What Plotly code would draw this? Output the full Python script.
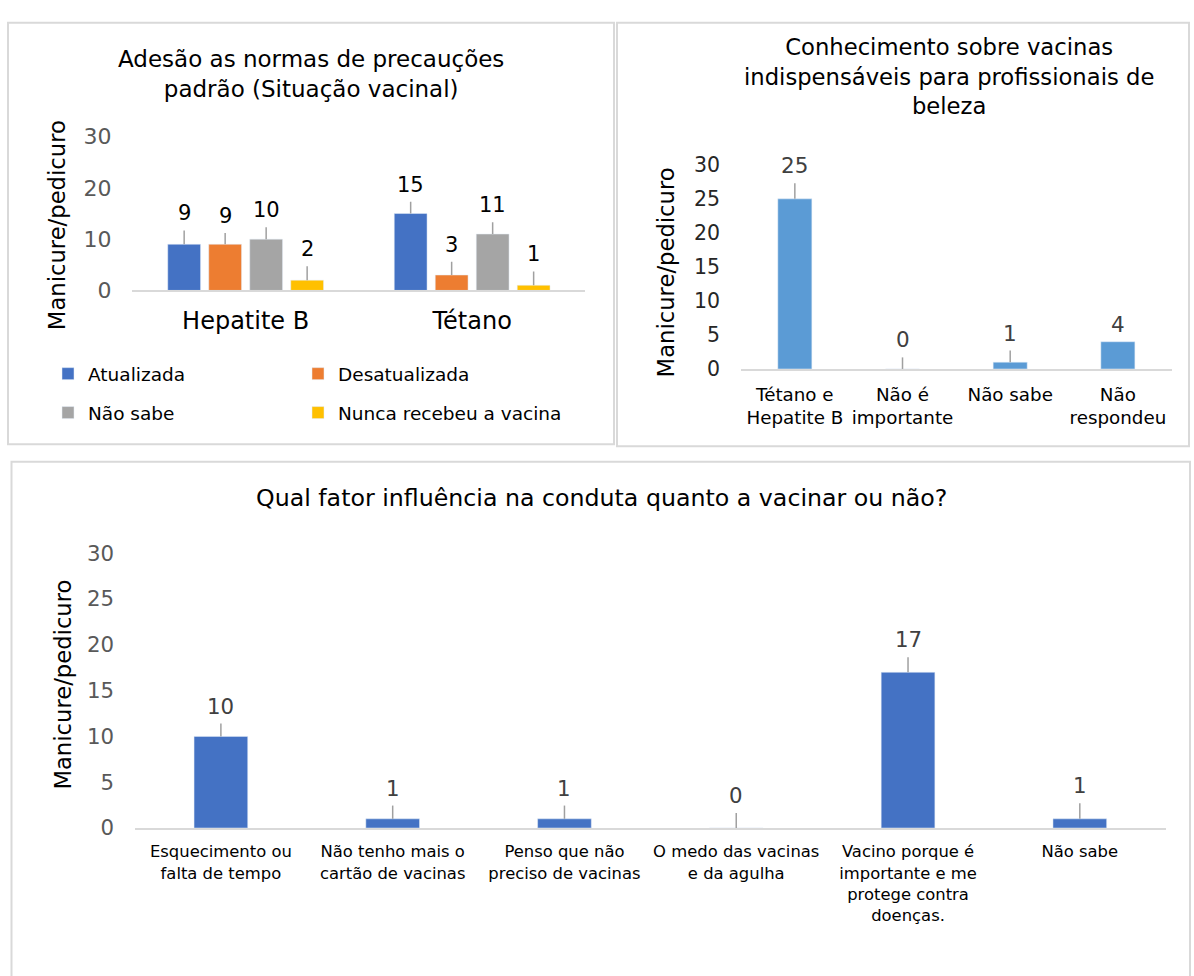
import plotly.graph_objects as go

W, H = 1194, 976
FONT = "DejaVu Sans"

# ---------------- data ----------------
y_axis_title = "Manicure/pedicuro"

p1_title = "Adesão as normas de precauções<br>padrão (Situação vacinal)"
p1_categories = ["Hepatite B", "Tétano"]
p1_series_names = ["Atualizada", "Desatualizada", "Não sabe", "Nunca recebeu a vacina"]
p1_atualizada = [9, 15]
p1_desatualizada = [9, 3]
p1_nao_sabe = [10, 11]
p1_nunca = [2, 1]
p1_err_atualizada = [2.7, 2.3]
p1_err_desatualizada = [2.2, 2.6]
p1_err_nao_sabe = [2.3, 2.3]
p1_err_nunca = [2.7, 2.7]
p1_colors = ["#4472C4", "#ED7D31", "#A5A5A5", "#FFC000"]

p2_title = "Conhecimento sobre vacinas<br>indispensáveis para profissionais de<br>beleza"
p2_categories = ["Tétano e<br>Hepatite B", "Não é<br>importante", "Não sabe", "Não<br>respondeu"]
p2_values = [25, 0, 1, 4]
p2_errors = [2.3, 1.7, 1.7, 0]

p3_title = "Qual fator influência na conduta quanto a vacinar ou não?"
p3_categories = [
    "Esquecimento ou<br>falta de tempo",
    "Não tenho mais o<br>cartão de vacinas",
    "Penso que não<br>preciso de vacinas",
    "O medo das vacinas<br>e da agulha",
    "Vacino porque é<br>importante e me<br>protege contra<br>doenças.",
    "Não sabe",
]
p3_values = [10, 1, 1, 0, 17, 1]
p3_errors = [1.4, 1.45, 1.45, 1.65, 1.65, 1.7]

# ---------------- helpers ----------------
def px(x):
    return x / W

def py(y):
    return 1 - y / H

ERR_COLOR = "#A0A0A0"
AXIS_LINE = "#D9D9D9"

fig = go.Figure()
annotations = []

# ---------------- panel 1 ----------------
p1_values = [p1_atualizada, p1_desatualizada, p1_nao_sabe, p1_nunca]
p1_errors = [p1_err_atualizada, p1_err_desatualizada, p1_err_nao_sabe, p1_err_nunca]
legend_ids = ["legend", "legend2", "legend3", "legend4"]
slot_px = 41  # width of one bar slot inside a group (px)
for i, (name, vals, errs, col) in enumerate(zip(p1_series_names, p1_values, p1_errors, p1_colors)):
    fig.add_trace(go.Bar(
        x=p1_categories, y=vals, name=name, marker_color=col,
        xaxis="x", yaxis="y", legend=legend_ids[i],
        error_y=dict(type="data", array=errs, arrayminus=[0] * len(errs), symmetric=False,
                     color=ERR_COLOR, thickness=1.5, width=0),
    ))
    for c, v, e in zip(p1_categories, vals, errs):
        annotations.append(dict(
            x=c, y=v + e, xref="x", yref="y", xshift=(i - 1.5) * slot_px, yshift=3,
            text=str(v), showarrow=False, yanchor="bottom",
            font=dict(family=FONT, size=21, color="#000000"),
        ))

# ---------------- panel 2 ----------------
fig.add_trace(go.Bar(
    x=p2_categories, y=p2_values, marker_color="#5B9BD5", width=0.316,
    xaxis="x2", yaxis="y2", showlegend=False,
    error_y=dict(type="data", array=p2_errors, arrayminus=[0] * len(p2_errors), symmetric=False,
                 color=ERR_COLOR, thickness=1.5, width=0),
))
for c, v, e in zip(p2_categories, p2_values, p2_errors):
    annotations.append(dict(
        x=c, y=v + e, xref="x2", yref="y2", yshift=3,
        text=str(v), showarrow=False, yanchor="bottom",
        font=dict(family=FONT, size=21.5, color="#404040"),
    ))

# ---------------- panel 3 ----------------
fig.add_trace(go.Bar(
    x=p3_categories, y=p3_values, marker_color="#4472C4", width=0.3125,
    xaxis="x3", yaxis="y3", showlegend=False,
    error_y=dict(type="data", array=p3_errors, arrayminus=[0] * len(p3_errors), symmetric=False,
                 color=ERR_COLOR, thickness=1.5, width=0),
))
for c, v, e in zip(p3_categories, p3_values, p3_errors):
    annotations.append(dict(
        x=c, y=v + e, xref="x3", yref="y3", yshift=3,
        text=str(v), showarrow=False, yanchor="bottom",
        font=dict(family=FONT, size=21.3, color="#404040"),
    ))

# ---------------- titles ----------------
annotations += [
    dict(x=px(311), y=py(62.5), xref="paper", yref="paper", text=p1_title, showarrow=False,
         xanchor="center", yanchor="middle", font=dict(family=FONT, size=23, color="#000000")),
    dict(x=px(949), y=py(65), xref="paper", yref="paper", text=p2_title, showarrow=False,
         xanchor="center", yanchor="middle", font=dict(family=FONT, size=22.7, color="#000000")),
    dict(x=px(601), y=py(498), xref="paper", yref="paper", text=p3_title, showarrow=False,
         xanchor="center", yanchor="middle", font=dict(family=FONT, size=23.7, color="#000000")),
    dict(x=px(57), y=py(218), xref="paper", yref="paper", text=y_axis_title, showarrow=False,
         textangle=-90, xanchor="center", yanchor="middle", font=dict(family=FONT, size=22.7, color="#000000")),
    dict(x=px(666), y=py(266.5), xref="paper", yref="paper", text=y_axis_title, showarrow=False,
         textangle=-90, xanchor="center", yanchor="middle", font=dict(family=FONT, size=22.7, color="#000000")),
    dict(x=px(63), y=py(690), xref="paper", yref="paper", text=y_axis_title, showarrow=False,
         textangle=-90, xanchor="center", yanchor="middle", font=dict(family=FONT, size=22.7, color="#000000")),
]

# ---------------- panel borders ----------------
shapes = [
    dict(type="rect", xref="paper", yref="paper", x0=px(8), x1=px(614), y0=py(443), y1=py(10),
         line=dict(color=AXIS_LINE, width=2), fillcolor="rgba(0,0,0,0)", layer="below"),
    dict(type="rect", xref="paper", yref="paper", x0=px(617), x1=px(1189), y0=py(445), y1=py(10),
         line=dict(color=AXIS_LINE, width=2), fillcolor="rgba(0,0,0,0)", layer="below"),
    dict(type="rect", xref="paper", yref="paper", x0=px(11.5), x1=px(1190), y0=py(995), y1=py(461),
         line=dict(color=AXIS_LINE, width=2), fillcolor="rgba(0,0,0,0)", layer="below"),
]

def xax(domain, size, anchor):
    return dict(domain=domain, anchor=anchor, showline=True, linecolor=AXIS_LINE, linewidth=1.5,
                showgrid=False, zeroline=False, ticks="", ticklabelstandoff=8,
                tickfont=dict(family=FONT, size=size, color="#000000"), fixedrange=True)

def yax(domain, dtick, size, color, anchor):
    return dict(domain=domain, anchor=anchor, range=[0, 30], dtick=dtick, showline=False,
                showgrid=False, zeroline=False, ticks="", ticklabelstandoff=20,
                tickfont=dict(family=FONT, size=size, color=color), fixedrange=True)

def leg(xp, yp):
    return dict(orientation="h", x=px(xp), y=py(yp), xanchor="left", yanchor="middle",
                bgcolor="rgba(0,0,0,0)", font=dict(family=FONT, size=18.5, color="#000000"))

fig.update_layout(
    width=W, height=H, autosize=False,
    margin=dict(l=0, r=0, t=0, b=0),
    paper_bgcolor="white", plot_bgcolor="white",
    font=dict(family=FONT, color="#000000"),
    barmode="group", bargap=0.276, bargroupgap=0.2,
    xaxis=xax([px(132.4), px(585.4)], 24, "y"),
    yaxis=yax([py(285), py(127)], 10, 22, "#595959", "x"),
    xaxis2=xax([px(741), px(1171.7)], 18.3, "y2"),
    yaxis2=yax([py(365.7), py(156)], 5, 20.5, "#262626", "x2"),
    xaxis3=xax([px(135), px(1165.7)], 16.4, "y3"),
    yaxis3=yax([py(837.3), py(555)], 5, 21.3, "#595959", "x3"),
    legend=leg(48, 371),
    legend2=leg(298, 371),
    legend3=leg(48, 411),
    legend4=leg(298, 411),
    annotations=annotations,
    shapes=shapes,
)

fig.write_html("out.html")
